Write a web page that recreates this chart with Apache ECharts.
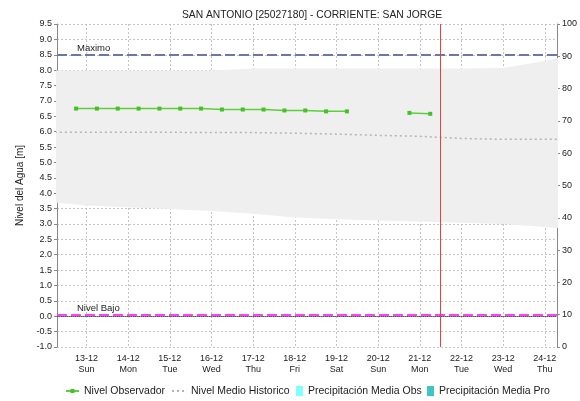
<!DOCTYPE html>
<html>
<head>
<meta charset="utf-8">
<script src="https://cdn.jsdelivr.net/npm/echarts@6/dist/echarts.min.js"></script>
<style>
  html, body { margin: 0; padding: 0; background: #fff; }
  #chart { width: 580px; height: 401px; }
</style>
</head>
<body>
<div id="chart"></div>
<script>
// Observed water level (m), every 12 hours; null = no reading
const obsTimes = [
  '2020-12-12 18:00', '2020-12-13 06:00', '2020-12-13 18:00', '2020-12-14 06:00',
  '2020-12-14 18:00', '2020-12-15 06:00', '2020-12-15 18:00', '2020-12-16 06:00',
  '2020-12-16 18:00', '2020-12-17 06:00', '2020-12-17 18:00', '2020-12-18 06:00',
  '2020-12-18 18:00', '2020-12-19 06:00', '2020-12-19 18:00', '2020-12-20 06:00',
  '2020-12-20 18:00', '2020-12-21 06:00'
];
const obsLevels = [
  6.75, 6.75, 6.75, 6.75,
  6.75, 6.75, 6.75, 6.72,
  6.72, 6.72, 6.69, 6.69,
  6.66, 6.66, null, null,
  6.61, 6.58
];

// Historical daily statistics (m)
const histDays = [
  '2020-12-12', '2020-12-13', '2020-12-14', '2020-12-15', '2020-12-16', '2020-12-17', '2020-12-18',
  '2020-12-19', '2020-12-20', '2020-12-21', '2020-12-22', '2020-12-23', '2020-12-24', '2020-12-25'
];
const histMin  = [3.72, 3.60, 3.54, 3.49, 3.42, 3.33, 3.21, 3.15, 3.11, 3.08, 3.04, 3.00, 2.90, 2.80];
const histMax  = [7.99, 7.99, 7.99, 7.99, 7.99, 8.05, 8.05, 8.05, 8.05, 8.05, 8.05, 8.07, 8.30, 8.60];
const histMean = [5.98, 5.98, 5.98, 5.98, 5.97, 5.97, 5.95, 5.92, 5.88, 5.85, 5.78, 5.75, 5.75, 5.75];

// Precipitation (mm), right axis
const precipObs = [];
const precipPro = [];

// Reference levels and current time
const levelMax = 8.5;
const levelLow = 0.05;
const nowTime = '2020-12-21 12:00';

const rangeStart = '2020-12-12 07:00';
const rangeEnd = '2020-12-24 07:00';

const dayNames = ['Sun', 'Mon', 'Tue', 'Wed', 'Thu', 'Fri', 'Sat'];

function ts(s) {
  const [d, t = '00:00'] = s.split(' ');
  const [Y, M, D] = d.split('-').map(Number);
  const [h, m] = t.split(':').map(Number);
  return new Date(Y, M - 1, D, h, m).getTime();
}
function pad(n) { return (n < 10 ? '0' : '') + n; }

const FONT = 'Liberation Sans';
const DAY = 86400000;
const LEGEND_TOP = 385.5;

const chart = echarts.init(document.getElementById('chart'), null, { renderer: 'canvas' });

const obsData = obsTimes.map((t, i) => [ts(t), obsLevels[i]]);
const minData = histDays.map((d, i) => [ts(d), histMin[i]]);
const spanData = histDays.map((d, i) => [ts(d), +(histMax[i] - histMin[i]).toFixed(3)]);
const meanData = histDays.map((d, i) => [ts(d), histMean[i]]);

function legendAt(left, itemWidth, itemHeight, item) {
  return {
    left: left,
    top: LEGEND_TOP,
    padding: 0,
    itemWidth: itemWidth,
    itemHeight: itemHeight,
    itemGap: 0,
    selectedMode: false,
    textStyle: { fontFamily: FONT, fontSize: 10.5, color: '#222' },
    data: [item]
  };
}

chart.setOption({
  animation: false,
  backgroundColor: '#ffffff',
  title: {
    text: 'SAN ANTONIO [25027180] - CORRIENTE: SAN JORGE',
    left: 307,
    textAlign: 'center',
    top: 5,
    textStyle: { fontFamily: FONT, fontSize: 10.3, fontWeight: 'normal', color: '#222' }
  },
  legend: [
    legendAt(65, 13, 5, { name: 'Nivel Observador' }),
    legendAt(171, 14, 6, { name: 'Nivel Medio Historico', itemStyle: { opacity: 0 } }),
    legendAt(296, 7, 10, { name: 'Precipitación Media Obs', icon: 'rect' }),
    legendAt(427, 7, 10, { name: 'Precipitación Media Pro', icon: 'rect' })
  ],
  grid: { left: 57, right: 23, top: 24, bottom: 54, containLabel: false },
  xAxis: [
    {
      type: 'time',
      min: ts(rangeStart),
      max: ts(rangeEnd),
      minInterval: DAY,
      maxInterval: DAY,
      axisLine: { show: true, lineStyle: { color: '#555', type: [1, 1], width: 1 } },
      axisTick: { show: false },
      axisLabel: {
        showMinLabel: false,
        showMaxLabel: false,
        hideOverlap: false,
        margin: 6,
        lineHeight: 11,
        fontFamily: FONT,
        fontSize: 9,
        color: '#222',
        formatter: function (v) {
          const d = new Date(v);
          return pad(d.getDate()) + '-' + pad(d.getMonth() + 1) + '\n' + dayNames[d.getDay()];
        }
      },
      splitLine: { show: true, lineStyle: { color: '#c4c4c4', type: [2, 2], width: 1 } }
    },
    {
      // daily precipitation bars share the plot but use their own category scale
      type: 'category',
      show: false,
      data: histDays
    }
  ],
  yAxis: [
    {
      type: 'value',
      min: -1,
      max: 9.5,
      interval: 0.5,
      name: 'Nivel del Agua [m]',
      nameLocation: 'middle',
      nameGap: 29,
      nameTextStyle: { fontFamily: FONT, fontSize: 10, color: '#222' },
      axisLine: { show: true, lineStyle: { color: '#888' } },
      axisTick: { show: true, length: 3, lineStyle: { color: '#888' } },
      axisLabel: {
        margin: 5,
        fontFamily: FONT,
        fontSize: 9,
        color: '#222',
        formatter: v => v.toFixed(1)
      },
      splitLine: { show: true, lineStyle: { color: '#c4c4c4', type: [2, 2], width: 1 } }
    },
    {
      type: 'value',
      min: 0,
      max: 100,
      interval: 10,
      position: 'right',
      axisLine: { show: true, lineStyle: { color: '#888' } },
      axisTick: { show: true, length: 3, lineStyle: { color: '#888' } },
      axisLabel: { margin: 5, fontFamily: FONT, fontSize: 9, color: '#222' },
      splitLine: { show: false }
    }
  ],
  series: [
    {
      name: 'histMinBase',
      type: 'line',
      data: minData,
      stack: 'band',
      symbol: 'none',
      lineStyle: { opacity: 0 },
      silent: true,
      z: 1
    },
    {
      name: 'histBand',
      type: 'line',
      data: spanData,
      stack: 'band',
      symbol: 'none',
      lineStyle: { opacity: 0 },
      areaStyle: { color: '#efefef', opacity: 1 },
      silent: true,
      z: 1
    },
    {
      name: 'Nivel Medio Historico',
      type: 'line',
      data: meanData,
      symbol: 'none',
      itemStyle: { color: '#b4b4b4' },
      lineStyle: { color: '#b4b4b4', width: 1.5, type: [2, 3] },
      z: 3
    },
    {
      name: 'Precipitación Media Obs',
      type: 'bar',
      xAxisIndex: 1,
      yAxisIndex: 1,
      data: precipObs,
      itemStyle: { color: '#80ffff' }
    },
    {
      name: 'Precipitación Media Pro',
      type: 'bar',
      xAxisIndex: 1,
      yAxisIndex: 1,
      data: precipPro,
      itemStyle: { color: '#40c4c4' }
    },
    {
      name: 'Nivel Observador',
      type: 'line',
      data: obsData,
      symbol: 'rect',
      symbolSize: 4,
      connectNulls: false,
      itemStyle: { color: '#46c02a' },
      lineStyle: { color: '#5cd03a', width: 1.5 },
      z: 5,
      markLine: {
        silent: true,
        symbol: 'none',
        animation: false,
        data: [
          {
            yAxis: levelMax,
            lineStyle: { color: '#6a78a4', width: 2, type: [10, 4] },
            label: {
              show: true, formatter: 'Maximo', position: 'insideStartTop',
              distance: [20, 1], fontFamily: FONT, fontSize: 9.5, color: '#222'
            }
          },
          {
            yAxis: levelLow,
            lineStyle: { color: '#ff40ff', width: 2, type: [10, 4] },
            label: {
              show: true, formatter: 'Nivel Bajo', position: 'insideStartTop',
              distance: [20, 1], fontFamily: FONT, fontSize: 9.5, color: '#222'
            }
          },
          {
            xAxis: ts(nowTime),
            lineStyle: { color: '#f03c3c', width: 1, type: 'solid' },
            label: { show: false }
          }
        ]
      }
    }
  ]
});
</script>
</body>
</html>
